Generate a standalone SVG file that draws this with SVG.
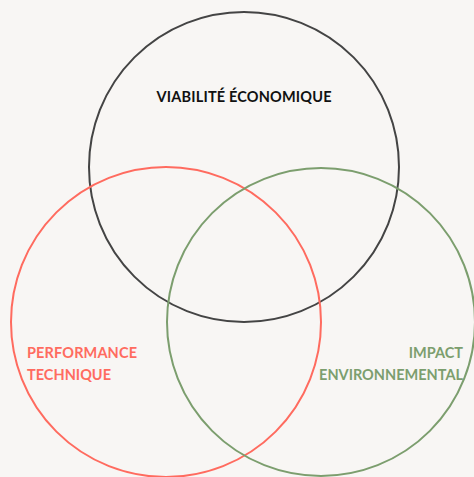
<svg xmlns="http://www.w3.org/2000/svg" width="474" height="477" viewBox="0 0 474 477">
<style>
.c{fill:none;stroke-width:2}
.t{font-family:"Lato","Liberation Sans",sans-serif;font-weight:bold;font-size:14.5px}
</style>
<rect width="474" height="477" fill="#f8f6f4"/>
<g id="economique">
<circle class="c" cx="244" cy="167" r="155" stroke="#444444"/>
<text class="t" x="244" y="102" text-anchor="middle" fill="#111111" textLength="175">VIABILITÉ ÉCONOMIQUE</text>
</g>
<g id="technique">
<circle class="c" cx="166" cy="322" r="155" stroke="#ff6b5f"/>
<text class="t" fill="#ff6b5f"><tspan x="27" y="358" textLength="110">PERFORMANCE</tspan><tspan x="27" y="380" textLength="84">TECHNIQUE</tspan></text>
</g>
<g id="environnemental">
<circle class="c" cx="321" cy="322" r="154" stroke="#7c9e6e"/>
<text class="t" fill="#7c9e6e" text-anchor="end"><tspan x="463" y="358">IMPACT</tspan><tspan x="463" y="380">ENVIRONNEMENTAL</tspan></text>
</g>
<g id="connectors"/>
</svg>
